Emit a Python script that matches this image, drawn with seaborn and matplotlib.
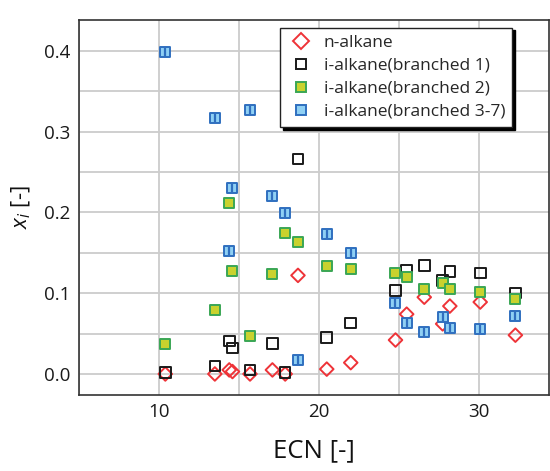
import numpy as np
import pandas as pd
import matplotlib
matplotlib.use("Agg")
import matplotlib.pyplot as plt
import seaborn as sns
from matplotlib.lines import Line2D

# ECN of each component (shared by all four series)
ecn = [10.4, 13.5, 14.4, 14.6, 15.7, 17.1, 17.9, 18.7, 20.5, 22.0,
       24.8, 25.5, 26.6, 27.75, 28.2, 30.1, 32.3]

n_alkane = [0.000, 0.000, 0.005, 0.003, 0.000, 0.005, 0.000, 0.122, 0.006, 0.014,
            0.042, 0.074, 0.095, 0.062, 0.084, 0.089, 0.048]
branched_1 = [0.002, 0.010, 0.041, 0.032, 0.005, 0.038, 0.002, 0.266, 0.045, 0.063,
              0.103, 0.128, 0.134, 0.116, 0.127, 0.125, 0.100]
branched_2 = [0.037, 0.079, 0.211, 0.127, 0.047, 0.124, 0.175, 0.163, 0.134, 0.130,
              0.125, 0.120, 0.105, 0.113, 0.105, 0.101, 0.093]
branched_37 = [0.399, 0.317, 0.152, 0.230, 0.327, 0.220, 0.199, 0.017, 0.173, 0.150,
               0.088, 0.063, 0.052, 0.070, 0.057, 0.056, 0.072]

labels = ["n-alkane", "i-alkane(branched 1)", "i-alkane(branched 2)", "i-alkane(branched 3-7)"]

df = pd.concat([
    pd.DataFrame({"ECN": ecn, "x": vals, "group": lab})
    for lab, vals in zip(labels, [n_alkane, branched_1, branched_2, branched_37])
])

sns.set_style("white")
plt.rcParams["font.family"] = ["Open Sans", "DejaVu Sans"]
plt.rcParams["mathtext.fontset"] = "custom"
plt.rcParams["mathtext.it"] = "Open Sans:italic"
plt.rcParams["mathtext.rm"] = "Open Sans"

fig = plt.figure(figsize=(5.5, 4.71), dpi=100)
ax = fig.add_axes([0.1436, 0.1614, 0.8545, 0.7961])

styles = {
    "n-alkane": dict(marker="D", facecolor="none", edgecolor="#ee3338", s=48, linewidth=1.4),
    "i-alkane(branched 1)": dict(marker="s", facecolor="none", edgecolor="#1a1a1a", s=58, linewidth=1.4),
    "i-alkane(branched 2)": dict(marker="s", facecolor="#c9d22e", edgecolor="#3aa655", s=58, linewidth=1.4),
    "i-alkane(branched 3-7)": dict(marker="s", facecolor="#8fd0f4", edgecolor="#2f6fbf", s=58, linewidth=1.4),
}

for lab in labels:
    sub = df[df["group"] == lab]
    st = styles[lab]
    sns.scatterplot(data=sub, x="ECN", y="x", ax=ax, marker=st["marker"], s=st["s"],
                    facecolor=st["facecolor"], edgecolor=st["edgecolor"],
                    linewidth=st["linewidth"], zorder=3)
    if lab == "i-alkane(branched 3-7)":
        sns.scatterplot(data=sub, x="ECN", y="x", ax=ax, marker="|", s=40,
                        color="#2f6fbf", linewidth=1.6, zorder=4)

ax.set_xlim(5, 34.4)
ax.set_ylim(-0.026, 0.438)
ax.set_xticks([10, 20, 30])
ax.set_xticks([5, 15, 25], minor=True)
ax.set_yticks([0.0, 0.1, 0.2, 0.3, 0.4])
ax.set_yticks([0.05, 0.15, 0.25, 0.35], minor=True)
ax.set_yticklabels(["0.0", "0.1", "0.2", "0.3", "0.4"])
ax.grid(True, which="both", color="#cccccc", linewidth=1.3)
ax.set_axisbelow(True)
ax.tick_params(axis="both", which="major", direction="in", length=7, width=1,
               labelsize=13.5, colors="#1a1a1a", pad=6)
ax.tick_params(axis="both", which="minor", direction="in", length=4, width=1)
ax.tick_params(top=False, right=False)
for sp in ax.spines.values():
    sp.set_color("#333333")
    sp.set_linewidth(1.2)

ax.set_xlabel("ECN [-]", fontsize=18.5, labelpad=12, color="#111111")
ax.set_ylabel("$x_i$ [-]", fontsize=16, labelpad=8, color="#111111")

handles = [
    Line2D([], [], linestyle="none", marker="D", markersize=8, markerfacecolor="none",
           markeredgecolor="#ee3338", markeredgewidth=1.4),
    Line2D([], [], linestyle="none", marker="s", markersize=7, markerfacecolor="none",
           markeredgecolor="#1a1a1a", markeredgewidth=1.4),
    Line2D([], [], linestyle="none", marker="s", markersize=7, markerfacecolor="#c9d22e",
           markeredgecolor="#3aa655", markeredgewidth=1.4),
    Line2D([], [], linestyle="none", marker="s", markersize=7, markerfacecolor="#8fd0f4",
           markeredgecolor="#2f6fbf", markeredgewidth=1.4),
]
leg = ax.legend(handles, labels, loc="upper right", bbox_to_anchor=(0.94, 1.003),
                fontsize=12.5, frameon=True, fancybox=False, framealpha=1,
                edgecolor="#222222", borderpad=0.4, handletextpad=0.5, handlelength=1.6,
                labelspacing=0.4,
                shadow={"color": "black", "alpha": 1, "ox": 2, "oy": -2})
leg.get_frame().set_linewidth(1.0)
leg.set_zorder(10)

fig.savefig("out.png", dpi=100)
